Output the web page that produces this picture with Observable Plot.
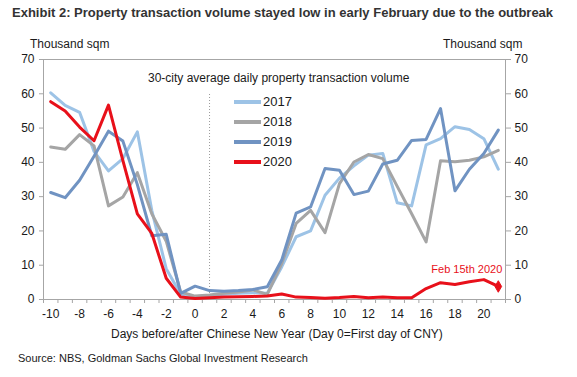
<!DOCTYPE html>
<html><head><meta charset="utf-8">
<script src="https://cdn.jsdelivr.net/npm/d3@7"></script>
<script src="https://cdn.jsdelivr.net/npm/@observablehq/plot@0.6"></script>
<style>
body{margin:0;background:#fff;}
#wrap{position:relative;width:577px;height:377px;font-family:"Liberation Sans",Arial,sans-serif;color:#1a1a1a;overflow:hidden;background:#fff}
.t{position:absolute;white-space:nowrap;line-height:1}
#chart{position:absolute;left:0;top:26px}
.sw{position:absolute;height:4px;width:27px}
</style></head><body><div id="wrap"><div id="chart"></div></div>
<script>
// ---- data ----
const days = [-10,-9,-8,-7,-6,-5,-4,-3,-2,-1,0,1,2,3,4,5,6,7,8,9,10,11,12,13,14,15,16,17,18,19,20,21];
const v2017 = [60.3,56.6,54.6,43.2,37.5,41.1,48.9,26,9,1.5,0.8,1.2,1.5,1.8,2.0,1.8,9.5,18.3,20,30.4,35.4,39.0,42.1,42.6,28.2,27.3,45.1,46.9,50.4,49.6,46.9,38];
const v2018 = [44.5,43.8,48.1,44.8,27.3,29.9,37,25,17,2.2,1.0,1.3,1.8,2.2,2.8,1.5,10.5,22.2,26,19.5,33.8,40.1,42.3,41.1,33,25,16.8,40.5,40.2,40.6,41.6,43.5];
const v2019 = [31.2,29.7,34.8,41.8,49.1,46.2,33.5,18.6,19.0,1.8,3.9,2.6,2.4,2.6,2.9,3.7,11.5,25.2,27,38.2,37.7,30.6,31.6,39.5,40.6,46.4,46.7,55.7,31.7,38,42.6,49.4];
const v2020 = [57.7,55,50.3,46.3,56.7,40.5,25,19.3,6.2,0.7,0.3,0.5,0.7,0.8,0.9,1.0,1.6,0.7,0.6,0.4,0.6,0.9,0.5,0.7,0.5,0.5,3.2,4.9,4.4,5.2,5.8,3.8];
const seriesNames = ["2017","2018","2019","2020"];
const seriesValues = [v2017, v2018, v2019, v2020];
const seriesColors = ["#9dc3e6","#a5a5a5","#7093c2","#e8101a"];
const xLabels = [-10,-8,-6,-4,-2,0,2,4,6,8,10,12,14,16,18,20];
const yTicks = [0,10,20,30,40,50,60,70];
const markerDay = [1];
const markerTop = 60;
const annotationText = "Feb 15th 2020";
const titleText = "Exhibit 2: Property transaction volume stayed low in early February due to the outbreak";
const innerTitle = "30-city average daily property transaction volume";
const unitText = "Thousand sqm";
const xTitle = "Days before/after Chinese New Year (Day 0=First day of CNY)";
const sourceText = "Source: NBS, Goldman Sachs Global Investment Research";

const rows = seriesNames.flatMap((s, k) => days.map((d, i) => ({day: d, value: seriesValues[k][i], series: s})));
const last2020 = [{day: days[days.length-1], value: v2020[v2020.length-1]}];
const boundaries = d3.range(days[0] - 0.5, days[days.length-1] + 1, 1);

const axisGray = "#a6a6a6";
const txt = "#1a1a1a";

const plot = Plot.plot({
  width: 577, height: 300,
  marginLeft: 43, marginRight: 72, marginTop: 33, marginBottom: 27,
  style: {fontFamily: "Liberation Sans, Arial, sans-serif", fontSize: "12px", color: txt, background: "transparent"},
  x: {type: "linear", domain: [days[0] - 0.5, days[days.length-1] + 0.5], label: null},
  y: {domain: [0, 70], label: null},
  marks: [
    Plot.frame({stroke: axisGray}),
    Plot.ruleX(markerDay, {y1: 0, y2: markerTop, stroke: "#9a9a9a", strokeDasharray: "1,2", strokeWidth: 1}),
    Plot.axisX(boundaries, {tickSize: 4, tickFormat: () => "", stroke: axisGray, label: null}),
    Plot.axisX(xLabels, {tickSize: 0, tickPadding: 10, fontSize: 12, fill: txt, tickFormat: d => String(d), label: null}),
    Plot.axisY(yTicks, {anchor: "left", tickSize: 4, tickPadding: 5, fontSize: 12, stroke: axisGray, fill: txt, label: null}),
    Plot.axisY(yTicks, {anchor: "right", tickSize: 5, tickPadding: 4, fontSize: 12, stroke: axisGray, fill: txt, label: null}),
    ...seriesNames.map((s, k) => Plot.lineY(rows.filter(r => r.series === s), {x: "day", y: "value", stroke: seriesColors[k], strokeWidth: 3, strokeLinejoin: "round"})),
    Plot.dot(last2020, {x: "day", y: "value", symbol: "diamond", r: 3.5, fill: seriesColors[3], stroke: seriesColors[3], strokeWidth: 1}),
    Plot.text(last2020, {x: "day", y: "value", text: () => annotationText, textAnchor: "end", dx: 4, dy: -17, fill: seriesColors[3], fontSize: 11})
  ]
});
document.getElementById("chart").appendChild(plot);

const wrap = document.getElementById("wrap");
function addText(str, left, top, size, extra) {
  const el = document.createElement("div");
  el.className = "t";
  el.textContent = str;
  el.style.left = left + "px";
  el.style.top = top + "px";
  el.style.fontSize = size + "px";
  if (extra) Object.assign(el.style, extra);
  wrap.appendChild(el);
  return el;
}
addText(titleText, 12, 6, 13, {fontWeight: "bold", color: "#333"});
addText(unitText, 30, 38, 12);
addText(unitText, 443, 38, 12);
addText(innerTitle, 148, 72, 12);
seriesNames.forEach((s, k) => {
  const cy = 101.5 + k * 20;
  const sw = document.createElement("div");
  sw.className = "sw";
  sw.style.left = "234px";
  sw.style.top = (cy - 2) + "px";
  sw.style.background = seriesColors[k];
  wrap.appendChild(sw);
  addText(s, 263, cy - 6.5, 13);
});
addText(xTitle, 111, 328, 12);
addText(sourceText, 18, 353, 11);
</script>
</body></html>
